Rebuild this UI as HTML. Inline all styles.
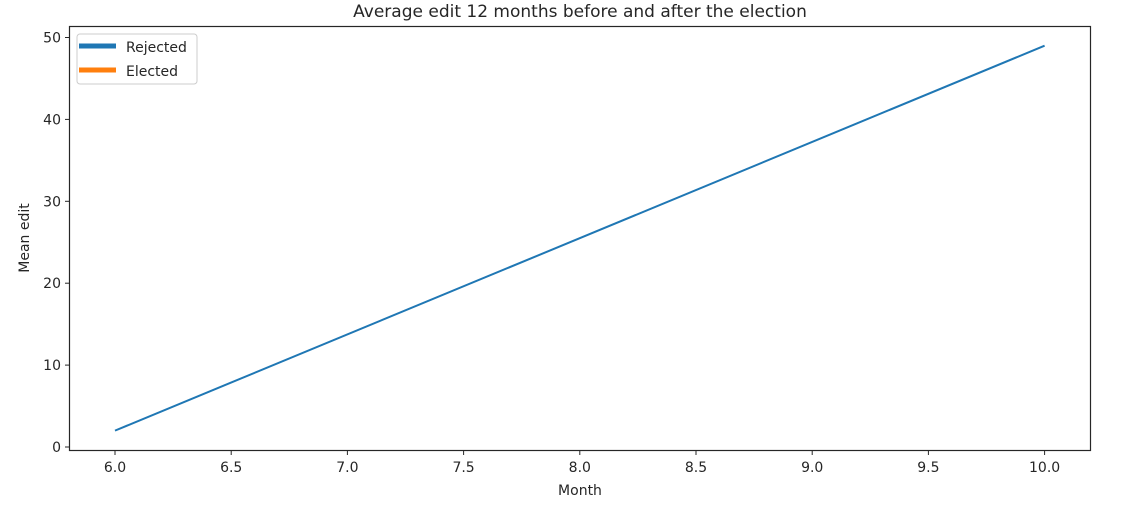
<!DOCTYPE html>
<html><head><meta charset="utf-8"><style>
body{margin:0;background:#fff;font-family:"Liberation Sans","DejaVu Sans",sans-serif;}
svg text{font-family:"DejaVu Sans","Liberation Sans",sans-serif;fill:#262626;}
</style></head><body>
<svg id="chart" width="1128" height="508">
<text x="580" y="17" font-size="17" text-anchor="middle">Average edit 12 months before and after the election</text>
<g id="axes"></g>
<rect x="69.5" y="26.5" width="1021" height="424" fill="none" stroke="#262626" stroke-width="1.2"/>
<text x="580" y="495" font-size="14" text-anchor="middle">Month</text>
<text transform="translate(29,238) rotate(-90)" font-size="14" text-anchor="middle">Mean edit</text>
<g>
<rect x="77" y="34" width="120" height="50" rx="3" fill="#fff" stroke="#ccc"/>
<line x1="79" y1="46" x2="116" y2="46" stroke="#1f77b4" stroke-width="5"/>
<text x="126" y="52" font-size="14">Rejected</text>
<line x1="79" y1="70" x2="116" y2="70" stroke="#ff7f0e" stroke-width="5"/>
<text x="126" y="76" font-size="14">Elected</text>
</g>
</svg>
<script>
const months=[6,10];
const rejected=[2,49];
const xTicks=[6.0,6.5,7.0,7.5,8.0,8.5,9.0,9.5,10.0];
const yTicks=[0,10,20,30,40,50];
function xs(v){return 115+(v-6)*232.4;}
function ys(v){return 447-v*8.19;}
const NS="http://www.w3.org/2000/svg";
const g=document.getElementById('axes');
const svg=document.getElementById('chart');
xTicks.forEach(t=>{
 const l=document.createElementNS(NS,'line');
 l.setAttribute('x1',xs(t));l.setAttribute('x2',xs(t));l.setAttribute('y1',450.5);l.setAttribute('y2',455);l.setAttribute('stroke','#262626');
 
 
 g.appendChild(l);
 const tx=document.createElementNS(NS,'text');
 tx.setAttribute('x',xs(t));tx.setAttribute('y',472);tx.setAttribute('font-size','14');tx.setAttribute('text-anchor','middle');
 tx.textContent=t.toFixed(1);
 
 
 g.appendChild(tx);
});
yTicks.forEach(t=>{
 const l=document.createElementNS(NS,'line');
 l.setAttribute('x1',65);l.setAttribute('x2',69.5);l.setAttribute('y1',ys(t));l.setAttribute('y2',ys(t));l.setAttribute('stroke','#262626');
 
 
 g.appendChild(l);
 const tx=document.createElementNS(NS,'text');
 tx.setAttribute('x',61);tx.setAttribute('y',ys(t)+5);tx.setAttribute('font-size','14');tx.setAttribute('text-anchor','end');
 tx.textContent=t;
 
 
 g.appendChild(tx);
});
const p=document.createElementNS(NS,'polyline');
p.setAttribute('points',months.map((m,i)=>xs(m)+','+ys(rejected[i])).join(' '));
p.setAttribute('fill','none');p.setAttribute('stroke','#1f77b4');p.setAttribute('stroke-width','2');


svg.appendChild(p);
</script>
</body></html>
